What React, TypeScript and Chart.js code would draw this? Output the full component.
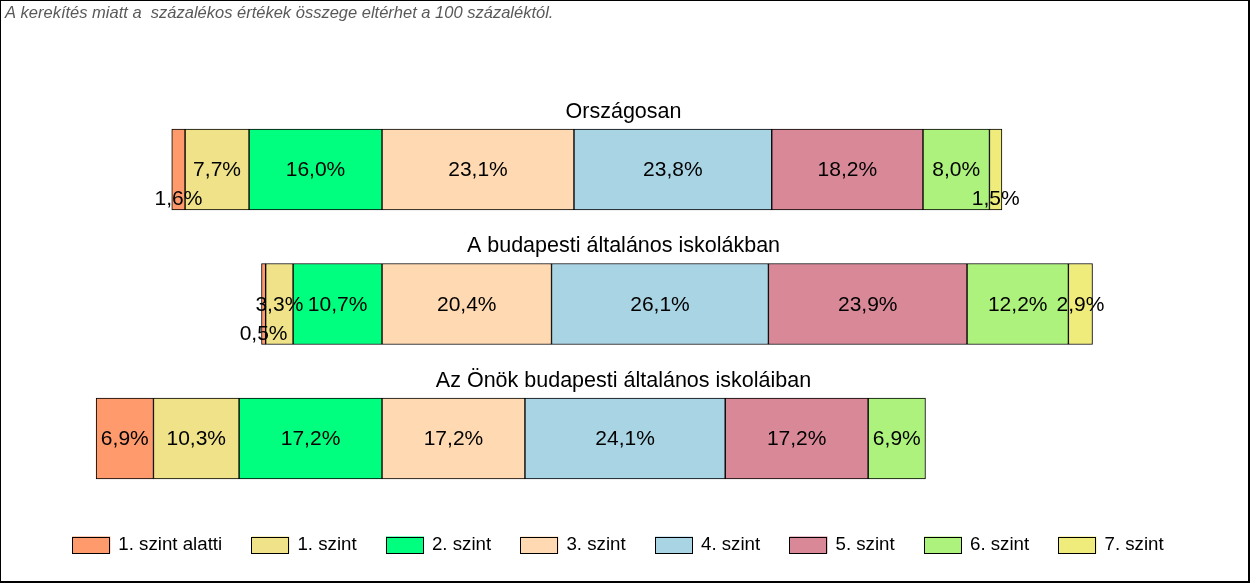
import React, { useEffect, useRef } from 'react';
import { Chart, registerables } from 'chart.js';

Chart.register(...registerables);

const groups = ['Országosan', 'A budapesti általános iskolákban', 'Az Önök budapesti általános iskoláiban'];
const levels = ['1. szint alatti', '1. szint', '2. szint', '3. szint', '4. szint', '5. szint', '6. szint', '7. szint'];
const orszagosan = [1.6, 7.7, 16.0, 23.1, 23.8, 18.2, 8.0, 1.5];
const budapesti = [0.5, 3.3, 10.7, 20.4, 26.1, 23.9, 12.2, 2.9];
const onok = [6.9, 10.3, 17.2, 17.2, 24.1, 17.2, 6.9, 0];
const levelColors = ['#FF9A6C', '#EFE289', '#00FF7F', '#FFD9B2', '#A9D4E4', '#D98898', '#ADF27C', '#EFEC7C'];
const note = 'A kerekítés miatt a  százalékos értékek összege eltérhet a 100 százaléktól.';
// bars are aligned on the boundary between "2. szint" and "3. szint"
const alignIndex = 3;

const FONT = '"Liberation Sans", Arial, sans-serif';

function ranges(values: number[]): ([number, number] | null)[] {
  let start = -values.slice(0, alignIndex).reduce((a, b) => a + b, 0);
  return values.map((v) => {
    const r: [number, number] = [start, start + v];
    start += v;
    return v > 0 ? r : null;
  });
}

const allSeries = [orszagosan, budapesti, onok];

const decorPlugin = {
  id: 'decor',
  afterDatasetsDraw(chart: any) {
    const ctx = chart.ctx as CanvasRenderingContext2D;
    ctx.save();
    // value labels
    ctx.font = `21px ${FONT}`;
    ctx.fillStyle = '#000';
    ctx.textAlign = 'center';
    ctx.textBaseline = 'middle';
    chart.data.datasets.forEach((ds: any, i: number) => {
      const meta = chart.getDatasetMeta(i);
      meta.data.forEach((el: any, j: number) => {
        const v = allSeries[j][i];
        if (!v) return;
        const cx = (el.x + el.base) / 2;
        const cy = el.y + 1 + (v < 2 ? 29 : 0);
        ctx.fillText(v.toFixed(1).replace('.', ',') + '%', cx, cy);
      });
    });
    // group titles
    ctx.font = `21.5px ${FONT}`;
    const meta0 = chart.getDatasetMeta(0);
    groups.forEach((g, j) => {
      const el = meta0.data[j];
      const top = el.y - 40.5;
      ctx.textBaseline = 'alphabetic';
      ctx.fillText(g, 623.5, top - 11.5);
    });
    // note
    ctx.font = `italic 16.5px ${FONT}`;
    ctx.fillStyle = '#595959';
    ctx.textAlign = 'left';
    ctx.fillText(note, 5, 18);
    // legend
    ctx.font = `18.7px ${FONT}`;
    const boxW = 38, boxH = 17, gapText = 8, pad = 29.3;
    const widths = levels.map((l) => ctx.measureText(l).width);
    const total = widths.reduce((a, w) => a + boxW + gapText + w, 0) + pad * (levels.length - 1);
    let x = 618 - total / 2;
    const cy = 545;
    levels.forEach((l, i) => {
      ctx.fillStyle = levelColors[i];
      ctx.fillRect(x, cy - boxH / 2, boxW, boxH);
      ctx.strokeStyle = '#000';
      ctx.lineWidth = 1;
      ctx.strokeRect(Math.round(x) + 0.5, Math.round(cy - boxH / 2) + 0.5, boxW - 1, boxH - 1);
      ctx.fillStyle = '#000';
      ctx.textBaseline = 'middle';
      ctx.fillText(l, x + boxW + gapText, cy);
      x += boxW + gapText + widths[i] + pad;
    });
    // frame
    ctx.fillStyle = '#000';
    ctx.fillRect(0, 0, 1250, 1);
    ctx.fillRect(0, 0, 1, 583);
    ctx.fillRect(1248, 0, 2, 583);
    ctx.fillRect(0, 581, 1250, 2);
    ctx.restore();
  },
};

export default function App() {
  const ref = useRef<HTMLCanvasElement | null>(null);
  useEffect(() => {
    if (!ref.current) return;
    const datasets = levels.map((lvl, i) => ({
      label: lvl,
      data: allSeries.map((s) => ranges(s)[i]),
      backgroundColor: levelColors[i],
      borderColor: '#000',
      borderWidth: 1,
      borderSkipped: false as const,
      barThickness: 81,
      grouped: false,
    }));
    const chart = new Chart(ref.current, {
      type: 'bar',
      data: { labels: groups, datasets: datasets as any },
      options: {
        indexAxis: 'y',
        animation: false,
        responsive: false,
        maintainAspectRatio: false,
        layout: { padding: { left: 49.6, right: 37, top: 102.25, bottom: 77.25 } },
        scales: {
          x: { type: 'linear', min: -40, max: 100, display: false },
          y: { type: 'category', display: false },
        },
        plugins: {
          legend: { display: false },
          tooltip: { enabled: false },
        },
      },
      plugins: [decorPlugin],
    });
    return () => chart.destroy();
  }, []);
  return (
    <div style={{ position: 'absolute', left: 0, top: 0, width: 1250, height: 583, background: '#fff' }}>
      <canvas ref={ref} width={1250} height={583} style={{ width: 1250, height: 583, display: 'block' }} />
    </div>
  );
}
